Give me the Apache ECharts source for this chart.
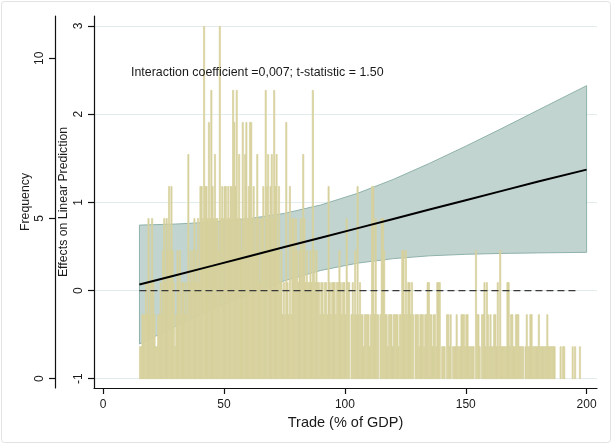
<!DOCTYPE html>
<html>
<head>
<meta charset="utf-8">
<script src="https://cdn.jsdelivr.net/npm/echarts@6/dist/echarts.min.js"></script>
<style>
  html, body { margin: 0; padding: 0; background: #ffffff; }
  #chart { width: 612px; height: 444px; }
</style>
</head>
<body>
<div id="chart"></div>
<script>
// Trade (% of GDP): histogram counts in half-unit bins, the first bin starting at 15
const binStart = 15;
const binWidth = 0.5;
const freq = [
  1,1,2,2,2,3,2,5,2,3,5,3,2,1,1,2,2,3,2,4,      // 15 - 25
  5,3,5,4,6,4,6,4,3,1,2,4,3,4,2,3,3,2,3,2,      // 25 - 35
  7,3,4,3,4,5,3,4,5,3,6,6,5,11,6,6,5,8,5,9,     // 35 - 45
  6,5,7,5,5,4,11,5,6,5,6,6,5,6,5,6,6,9,8,6,     // 45 - 55
  9,5,7,5,4,8,5,7,8,5,6,8,8,5,6,4,5,7,5,3,      // 55 - 65
  5,5,6,4,9,6,7,5,6,7,5,9,6,7,4,6,3,4,2,3,      // 65 - 75
  2,8,3,2,6,2,5,5,4,5,4,3,4,5,4,7,5,3,4,3,      // 75 - 85
  3,4,3,9,4,3,4,3,3,2,3,3,2,3,3,2,6,3,2,3,      // 85 - 95
  3,3,2,3,3,4,3,2,3,3,2,5,3,3,0,2,3,2,4,2,      // 95 - 105
  6,2,3,2,2,1,2,2,2,2,1,2,6,6,2,5,2,2,0,2,      // 105 - 115
  5,5,4,2,2,1,2,2,2,1,2,2,2,2,1,2,2,4,4,2,      // 115 - 125
  4,2,3,3,2,3,2,0,2,2,2,1,2,2,2,1,2,2,3,3,      // 125 - 135
  2,2,1,2,2,1,3,3,3,0,1,1,1,0,2,2,1,2,0,1,      // 135 - 145
  1,1,2,1,1,1,2,2,2,1,2,2,1,1,1,1,1,0,4,2,      // 145 - 155
  2,1,0,2,2,3,1,3,2,1,2,1,1,2,2,1,3,1,4,1,      // 155 - 165
  1,1,1,1,3,3,1,2,2,1,1,2,2,2,1,1,1,1,0,1,      // 165 - 175
  2,1,1,2,2,1,1,1,1,1,2,1,1,1,1,1,1,2,1,1,      // 175 - 185
  1,1,1,1,0,0,0,0,1,0,1,1,0,0,0,0,0,0,1,0,      // 185 - 195
  1,0,0,0,1                                     // 195 - 197.5
];

// Marginal effect on the linear prediction and its 95% confidence band
const tradePts = [15, 30, 45, 60, 75, 90, 105, 120, 135, 150, 165, 180, 200];
const effect   = [0.068, 0.174, 0.280, 0.387, 0.493, 0.599, 0.705, 0.811, 0.918, 1.024, 1.130, 1.236, 1.371];
const ciLower  = [-0.606, -0.406, -0.215, -0.040, 0.111, 0.228, 0.310, 0.362, 0.394, 0.411, 0.421, 0.427, 0.433];
const ciUpper  = [0.742, 0.754, 0.775, 0.814, 0.875, 0.970, 1.100, 1.260, 1.442, 1.637, 1.839, 2.047, 2.323];

// Zero reference line (from-to on the trade axis)
const zeroLine = [15, 196];

// Axis ticks
const tradeTicks  = [0, 50, 100, 150, 200];
const effectTicks = [-1, 0, 1, 2, 3];
const freqTicks   = [0, 5, 10];

const note = 'Interaction coefficient =0,007; t-statistic = 1.50';

const FONT = '"Liberation Sans", Arial, Helvetica, sans-serif';
const INK = '#1a1a1a';
const BAR = '#d7d19d';

const histData = freq.map((f, i) => [binStart + i * binWidth, binStart + (i + 1) * binWidth, f]);
const bandData = tradePts.map((x, i) => [x, ciLower[i], ciUpper[i]]);
const effectData = tradePts.map((x, i) => [x, effect[i]]);
const zeroData = zeroLine.map(x => [x, 0]);

const chart = echarts.init(document.getElementById('chart'), null, { renderer: 'canvas' });

const axisText = { color: INK, fontFamily: FONT, fontSize: 12 };

chart.setOption({
  animation: false,
  backgroundColor: '#ffffff',
  grid: { left: 94, right: 15, top: 16, bottom: 56, containLabel: false },
  xAxis: {
    type: 'value',
    min: -3.8,
    max: 204.3,
    name: 'Trade (% of GDP)',
    nameLocation: 'middle',
    nameGap: 27,
    nameMoveOverlap: false,
    nameTextStyle: { color: INK, fontFamily: FONT, fontSize: 14.5 },
    axisLine: { show: true, onZero: false, lineStyle: { color: '#111', width: 1.2 } },
    axisTick: { show: true, length: 6, customValues: tradeTicks, lineStyle: { color: '#111', width: 1.2 } },
    axisLabel: Object.assign({ customValues: tradeTicks, margin: 11 }, axisText),
    splitLine: { show: false }
  },
  yAxis: [
    {
      type: 'value',
      position: 'left',
      min: -1.105,
      max: 3.113,
      name: 'Effects on Linear Prediction',
      nameLocation: 'middle',
      nameRotate: 90,
      nameGap: 24,
      nameMoveOverlap: false,
      nameTextStyle: { color: INK, fontFamily: FONT, fontSize: 12.3 },
      axisLine: { show: true, onZero: false, lineStyle: { color: '#111', width: 1.2 } },
      axisTick: { show: true, length: 6, customValues: effectTicks, lineStyle: { color: '#111', width: 1.2 } },
      axisLabel: Object.assign({ customValues: effectTicks, rotate: 90, margin: 9 }, axisText),
      splitLine: { show: true, lineStyle: { color: '#e2ebee', width: 1 } }
    },
    {
      type: 'value',
      position: 'left',
      offset: 39,
      min: -0.29,
      max: 11.32,
      name: 'Frequency',
      nameLocation: 'middle',
      nameRotate: 90,
      nameGap: 23,
      nameMoveOverlap: false,
      nameTextStyle: { color: INK, fontFamily: FONT, fontSize: 12.3 },
      axisLine: { show: true, onZero: false, lineStyle: { color: '#111', width: 1.2 } },
      axisTick: { show: true, length: 6, customValues: freqTicks, lineStyle: { color: '#111', width: 1.2 } },
      axisLabel: Object.assign({ customValues: freqTicks, rotate: 90, margin: 9 }, axisText),
      splitLine: { show: false }
    }
  ],
  series: [
    {
      name: 'CI band',
      type: 'custom',
      xAxisIndex: 0,
      yAxisIndex: 0,
      z: 1,
      clip: true,
      data: bandData,
      encode: { x: 0, y: [1, 2] },
      renderItem: function (params, api) {
        if (params.dataIndex !== 0) return null;
        const top = tradePts.map((x, i) => api.coord([x, ciUpper[i]]));
        const bottom = tradePts.map((x, i) => api.coord([x, ciLower[i]])).reverse();
        return {
          type: 'polygon',
          shape: { points: top.concat(bottom) },
          style: { fill: '#c1d4d0', stroke: '#8fb2ab', lineWidth: 1 }
        };
      }
    },
    {
      name: 'Histogram',
      type: 'custom',
      xAxisIndex: 0,
      yAxisIndex: 1,
      z: 2,
      clip: true,
      data: histData,
      encode: { x: [0, 1], y: 2 },
      renderItem: function (params, api) {
        const f = api.value(2);
        if (!f) return null;
        const p0 = api.coord([api.value(0), f]);
        const p1 = api.coord([api.value(1), 0]);
        return {
          type: 'rect',
          shape: { x: p0[0], y: p0[1], width: p1[0] - p0[0], height: p1[1] - p0[1] },
          style: { fill: BAR, stroke: BAR, lineWidth: 0.7 }
        };
      }
    },
    {
      name: 'Effect',
      type: 'line',
      xAxisIndex: 0,
      yAxisIndex: 0,
      z: 3,
      symbol: 'none',
      data: effectData,
      lineStyle: { color: '#000000', width: 2 }
    },
    {
      name: 'Zero',
      type: 'line',
      xAxisIndex: 0,
      yAxisIndex: 0,
      z: 3,
      symbol: 'none',
      data: zeroData,
      lineStyle: { color: '#3a3a3a', width: 1.3, type: [7, 4] }
    }
  ],
  graphic: [
    {
      type: 'rect',
      silent: true,
      z: -10,
      shape: { x: 1.5, y: 1.5, width: 609, height: 441, r: 3 },
      style: { fill: 'none', stroke: '#e2e2e2', lineWidth: 1 }
    },
    {
      type: 'text',
      silent: true,
      z: 10,
      x: 131,
      y: 73,
      style: {
        text: note,
        fill: INK,
        font: '12.4px ' + FONT,
        verticalAlign: 'middle',
        align: 'left'
      }
    }
  ]
});
</script>
</body>
</html>
